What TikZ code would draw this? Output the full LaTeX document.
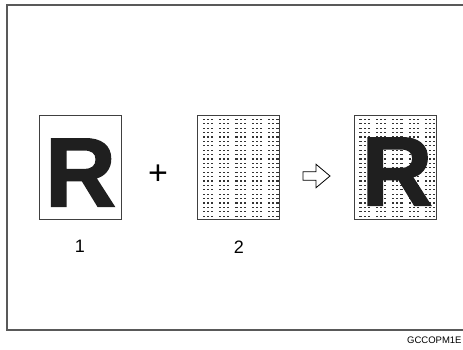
\documentclass[tikz,border=0pt]{standalone}
\usepackage{fontspec}
\setmainfont{Liberation Sans}
\newfontfamily\heavyfont{Liberation Sans Bold}[FakeBold=1.6]
\usetikzlibrary{positioning,shapes.arrows}

\begin{document}
\begin{tikzpicture}[
  x=1pt,y=-1pt,
  sheet/.style={draw=black!75,line width=0.8pt,minimum width=82pt,minimum height=104pt,inner sep=0pt},
  letter/.style={inner sep=0pt,text=black!88,font=\fontsize{98}{98}\heavyfont},
  number/.style={inner sep=0pt,font=\fontsize{18}{18}\selectfont},
  dot/.style={fill=black!80},
  frame/.style={draw=black!65,line width=1.5pt}
]
  \useasboundingbox (0,0) rectangle (463,349);
  \draw[frame] (463,5) -| (7,330) -- (463,330);

  \node[sheet] (orig) at (80,167) {};
  \node[sheet,right=76pt of orig] (screen) {};
  \node[sheet,right=74pt of screen] (result) {};

  % halftone dots
  \foreach \b in {screen,result}
    \foreach \r in {0,...,22}
      \foreach \c in {0,1,2,4,5,6,8,9,10,12,13,14,16,17,18}
        \fill[dot] ([shift={(5.2+4.1*\c,4.2+4.4*\r)}]\b.north west) rectangle ++(2.1,1.1);

  \node[letter] (rorig) at ([shift={(0.5,5.5)}]orig.center) {R};
  \node[letter] (rresult) at ([shift={(1.5,4.5)}]result.center) {R};

  \node[inner sep=0pt,font=\fontsize{34}{34}\selectfont] (plus) at (158,175) {+};
  \node[draw,line width=0.8pt,single arrow,single arrow head extend=7.5pt,single arrow tip angle=80,
    inner xsep=0pt,inner ysep=3.8pt,minimum height=27pt] (to) at (314,176) {};

  \node[number,below=21pt of orig] (n1) {1};
  \node[number,below=21pt of screen] (n2) {2};

  \node[anchor=west,inner sep=0pt,font=\fontsize{9.5}{9.5}\selectfont] (code) at (407,340) {GCCOPM1E};
\end{tikzpicture}
\end{document}
